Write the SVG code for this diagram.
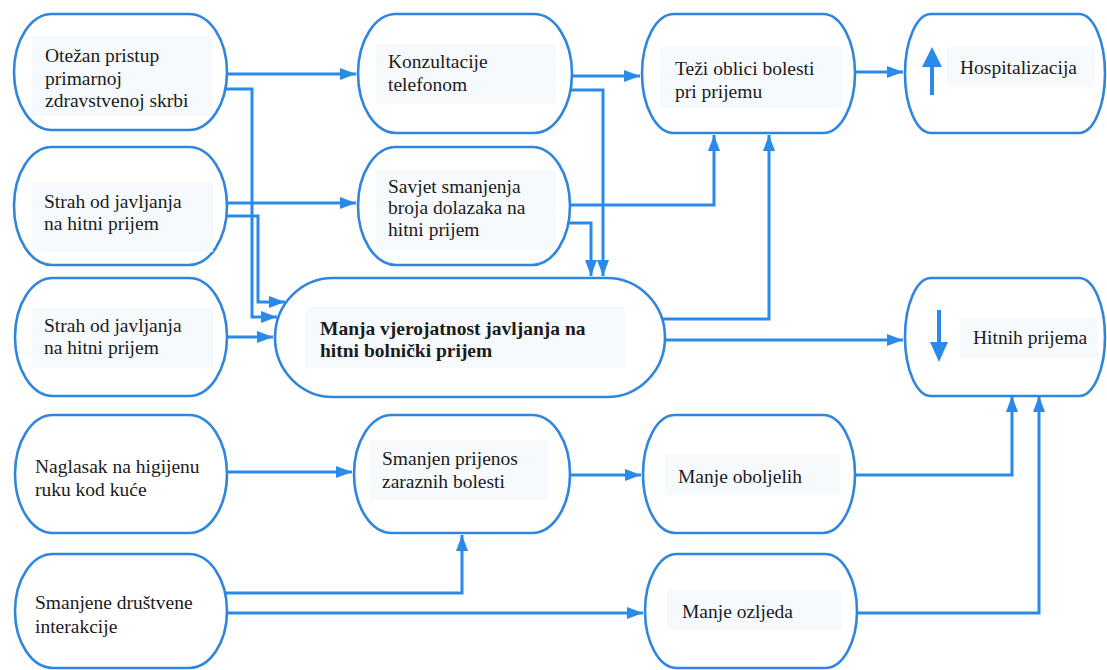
<svg xmlns="http://www.w3.org/2000/svg" width="1107" height="670" viewBox="0 0 1107 670">
<style>
.n{fill:#ffffff;stroke:#2f86dc;stroke-width:2.6}
.bg{fill:#f7fafc}
.t{font-size:19.5px;fill:#1b1b1b}
.b{font-weight:bold}
.c{fill:none;stroke:#2a8ae8;stroke-width:3;marker-end:url(#ah)}
.s{fill:none;stroke:#2a8ae8;stroke-width:4}
.h{fill:#2a8ae8}
</style>
<defs>
<marker id="ah" viewBox="0 0 16 12" refX="16" refY="6" markerWidth="16" markerHeight="12" markerUnits="userSpaceOnUse" orient="auto">
<path d="M0,0 L16,6 L0,12 Z" fill="#2a8ae8"/>
</marker>
</defs>
<rect width="1107" height="670" fill="#ffffff"/>
<g id="connectors">
<path class="c" d="M215,74 H356"/>
<path class="c" d="M215,89 H252 V317 H277"/>
<path class="c" d="M215,203 H356"/>
<path class="c" d="M215,216 H258 V302 H285"/>
<path class="c" d="M215,337 H273"/>
<path class="c" d="M560,76 H640"/>
<path class="c" d="M560,90 H603 V276"/>
<path class="c" d="M560,205 H714 V135"/>
<path class="c" d="M560,223 H591 V276"/>
<path class="c" d="M655,319 H769 V135"/>
<path class="c" d="M655,340 H903"/>
<path class="c" d="M845,72 H903"/>
<path class="c" d="M215,472 H352"/>
<path class="c" d="M215,593 H462 V535"/>
<path class="c" d="M215,613 H643"/>
<path class="c" d="M560,475 H641"/>
<path class="c" d="M845,475 H1012 V396"/>
<path class="c" d="M845,613 H1039 V396"/>
</g>
<g font-family="'Liberation Serif', 'Times New Roman', Tinos, 'DejaVu Serif', serif">
<g id="n1"><rect class="n" x="14" y="14" width="213" height="116" rx="38" ry="58"/><rect class="bg" x="32" y="36" width="180" height="80"/><text class="t" x="45" y="62">Otežan pristup</text><text class="t" x="45" y="85">primarnoj</text><text class="t" x="45" y="107">zdravstvenoj skrbi</text></g>
<g id="n2"><rect class="n" x="14" y="147" width="213" height="118" rx="38" ry="59"/><rect class="bg" x="32" y="182" width="181" height="70"/><text class="t" x="44" y="208">Strah od javljanja</text><text class="t" x="44" y="230">na hitni prijem</text></g>
<g id="n3"><rect class="n" x="15" y="278" width="212" height="118" rx="38" ry="59"/><rect class="bg" x="32" y="308" width="181" height="60"/><text class="t" x="44" y="332">Strah od javljanja</text><text class="t" x="44" y="354">na hitni prijem</text></g>
<g id="n4"><rect class="n" x="15" y="415" width="212" height="118" rx="38" ry="59"/><text class="t" x="35" y="473">Naglasak na higijenu</text><text class="t" x="35" y="496">ruku kod kuće</text></g>
<g id="n5"><rect class="n" x="15" y="554" width="212" height="114" rx="38" ry="57"/><text class="t" x="35" y="609">Smanjene društvene</text><text class="t" x="35" y="633">interakcije</text></g>
<g id="n6"><rect class="n" x="358" y="14" width="214" height="119" rx="38" ry="59.5"/><rect class="bg" x="376" y="44" width="180" height="60"/><text class="t" x="388" y="68">Konzultacije</text><text class="t" x="388" y="91">telefonom</text></g>
<g id="n7"><rect class="n" x="358" y="147" width="212" height="118" rx="38" ry="59"/><rect class="bg" x="376" y="170" width="180" height="80"/><text class="t" x="388" y="193">Savjet smanjenja</text><text class="t" x="388" y="214">broja dolazaka na</text><text class="t" x="388" y="236">hitni prijem</text></g>
<g id="n8"><rect class="n" x="354" y="415" width="216" height="118" rx="38" ry="59"/><rect class="bg" x="370" y="440" width="178" height="60"/><text class="t" x="382" y="465">Smanjen prijenos</text><text class="t" x="382" y="488">zaraznih bolesti</text></g>
<g id="n9"><rect class="n" x="275" y="278" width="390" height="119" rx="58" ry="59.5"/><rect class="bg" x="305" y="307" width="320" height="61"/><text class="t b" x="320" y="335">Manja vjerojatnost javljanja na</text><text class="t b" x="320" y="357">hitni bolnički prijem</text></g>
<g id="n10"><rect class="n" x="642" y="14" width="213" height="119" rx="32" ry="59.5"/><rect class="bg" x="660" y="47" width="183" height="61"/><text class="t" x="675" y="75">Teži oblici bolesti</text><text class="t" x="675" y="98">pri prijemu</text></g>
<g id="n11"><rect class="n" x="643" y="415" width="212" height="118" rx="32" ry="59"/><rect class="bg" x="665" y="455" width="175" height="40"/><text class="t" x="678" y="483">Manje oboljelih</text></g>
<g id="n12"><rect class="n" x="645" y="554" width="212" height="114" rx="32" ry="57"/><rect class="bg" x="667" y="590" width="175" height="40"/><text class="t" x="682" y="618">Manje ozljeda</text></g>
<g id="n13"><rect class="n" x="905" y="14" width="200" height="119" rx="26" ry="59.5"/><rect class="bg" x="947" y="47" width="148" height="40"/><text class="t" x="960" y="74">Hospitalizacija</text><line class="s" x1="932" y1="95" x2="932" y2="62"/><path class="h" d="M922,67 L932,47 L942,67 Z"/></g>
<g id="n14"><rect class="n" x="905" y="278" width="200" height="118" rx="26" ry="59"/><rect class="bg" x="960" y="318" width="138" height="40"/><text class="t" x="973" y="344">Hitnih prijema</text><line class="s" x1="939" y1="310" x2="939" y2="346"/><path class="h" d="M930,342 L939,362 L948,342 Z"/></g>
</g>
</svg>
